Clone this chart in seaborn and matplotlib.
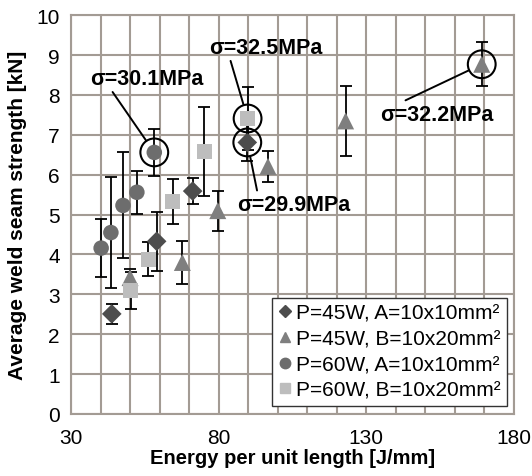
import numpy as np
import pandas as pd
import seaborn as sns
import matplotlib.pyplot as plt
from matplotlib.lines import Line2D
from matplotlib.ticker import MultipleLocator

# series
labels = ["P=45W, A=10x10mm²", "P=45W, B=10x20mm²",
          "P=60W, A=10x10mm²", "P=60W, B=10x20mm²"]

x_45A = [43.8, 59.0, 71.2, 89.7]
y_45A = [2.51, 4.33, 5.59, 6.81]
e_45A = [0.26, 0.74, 0.33, 0.47]

x_45B = [50.0, 67.7, 79.7, 96.7, 123.0, 169.1]
y_45B = [3.42, 3.80, 5.10, 6.21, 7.35, 8.77]
e_45B = [0.21, 0.53, 0.50, 0.39, 0.87, 0.55]

x_60A = [40.2, 43.5, 47.6, 52.3, 58.2]
y_60A = [4.16, 4.55, 5.23, 5.56, 6.56]
e_60A = [0.73, 1.40, 1.33, 0.54, 0.58]

x_60B = [50.2, 56.2, 64.4, 75.1, 89.8]
y_60B = [3.09, 3.88, 5.33, 6.58, 7.41]
e_60B = [0.46, 0.43, 0.56, 1.11, 0.78]

x_ticks = [30, 80, 130, 180]

# highlighted points: (series, index, label)
highlights = [(2, 4, "σ=30.1MPa"), (3, 4, "σ=32.5MPa"),
              (0, 3, "σ=29.9MPa"), (1, 5, "σ=32.2MPa")]

series = [(x_45A, y_45A, e_45A), (x_45B, y_45B, e_45B),
          (x_60A, y_60A, e_60A), (x_60B, y_60B, e_60B)]

colors = {labels[0]: "#4d4d4d", labels[1]: "#7f7f7f",
          labels[2]: "#6d6d6d", labels[3]: "#bdbdbd"}
markers = {labels[0]: "D", labels[1]: "^", labels[2]: "o", labels[3]: "s"}
msize = {labels[0]: 100, labels[1]: 150, labels[2]: 125, labels[3]: 120}

df = pd.concat([pd.DataFrame({"x": xs, "y": ys, "err": es, "series": lab})
                for (xs, ys, es), lab in zip(series, labels)], ignore_index=True)

sns.set_style("white")
plt.rcParams["font.family"] = ["Liberation Sans", "DejaVu Sans"]
plt.rcParams["text.color"] = "black"
plt.rcParams["axes.labelcolor"] = "black"

fig = plt.figure(figsize=(5.32, 4.77), dpi=100)
ax = fig.add_axes([0.1335, 0.13, 0.8325, 0.836])

grid_c = "#a39b94"

ax.errorbar(df["x"], df["y"], yerr=df["err"], fmt="none", ecolor="black",
            elinewidth=1.3, capsize=4.5, capthick=1.3, zorder=3)

for lab in labels:
    sub = df[df["series"] == lab]
    sns.scatterplot(data=sub, x="x", y="y", marker=markers[lab], color=colors[lab],
                    s=msize[lab], edgecolor="none", linewidth=0, ax=ax,
                    legend=False, zorder=4)

# rings and labels for the highlighted points
text_pos = {"σ=30.1MPa": (55.6, 8.42, 0.18, 0.0),
            "σ=32.5MPa": (96.0, 9.2, 0.18, 0.0),
            "σ=29.9MPa": (105.5, 5.26, 0.18, 1.0),
            "σ=32.2MPa": (154.0, 7.52, 0.16, 1.0)}
for si, idx, txt in highlights:
    px, py = series[si][0][idx], series[si][1][idx]
    ax.scatter([px], [py], s=400, facecolors="none", edgecolors="black",
               linewidths=1.5, zorder=5)
    tx, ty, rx, ry = text_pos[txt]
    ax.annotate(txt, xy=(px, py), xytext=(tx, ty), ha="center", va="center",
                fontsize=15.5, fontweight="bold", zorder=6,
                arrowprops=dict(arrowstyle="-", color="black", lw=1.4,
                                shrinkA=0, shrinkB=10.5, relpos=(rx, ry)))

ax.set_xlim(30, 180)
ax.set_ylim(0, 10)
ax.set_xticks(x_ticks)
ax.xaxis.set_minor_locator(MultipleLocator(10))
ax.yaxis.set_major_locator(MultipleLocator(1))
ax.grid(True, which="both", color=grid_c, linewidth=1.5, zorder=0)
ax.set_axisbelow(True)
for sp in ax.spines.values():
    sp.set_color(grid_c)
    sp.set_linewidth(1.5)
ax.tick_params(which="both", direction="out", color=grid_c, width=1.3,
               length=5, labelsize=15, labelcolor="black", pad=3)
ax.tick_params(axis="x", which="major", pad=5)

ax.set_xlabel("Energy per unit length [J/mm]", fontsize=14.5, fontweight="bold", labelpad=1)
ax.set_ylabel("Average weld seam strength [kN]", fontsize=15, fontweight="bold", labelpad=7)

handles = [Line2D([], [], marker=markers[l], color=colors[l], linestyle="none",
                  markersize=7.5 if markers[l] != "D" else 6.5) for l in labels]
leg = ax.legend(handles, labels, loc="lower right", bbox_to_anchor=(0.985, 0.02),
                fontsize=15, frameon=True, fancybox=False, framealpha=1,
                edgecolor="#333333", handlelength=0.6, handletextpad=0.25,
                labelspacing=0.32, borderpad=0.3, borderaxespad=0)
leg.get_frame().set_linewidth(1.0)
leg.set_zorder(7)

fig.savefig("out.png", dpi=100)
